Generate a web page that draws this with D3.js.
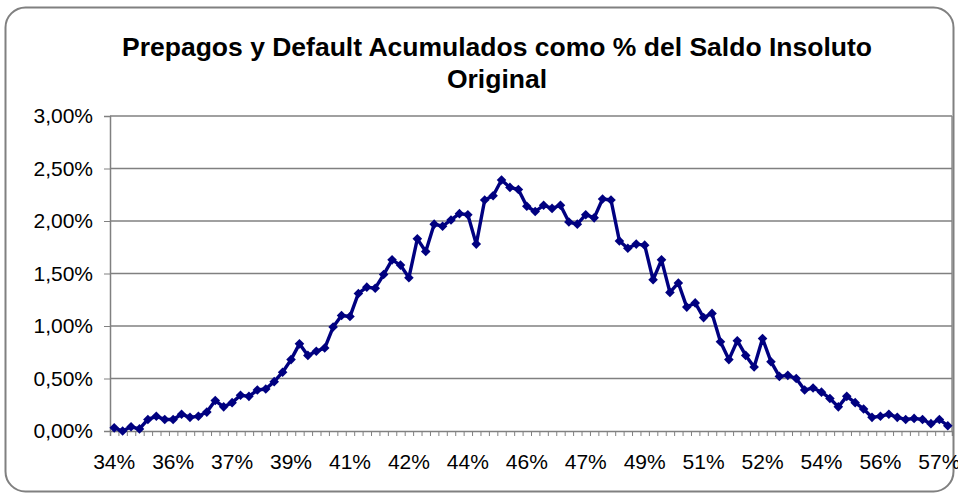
<!DOCTYPE html>
<html>
<head>
<meta charset="utf-8">
<script src="https://cdn.jsdelivr.net/npm/d3@7"></script>
<style>
  body { margin: 0; background: #fff; }
  svg { display: block; font-family: "Liberation Sans", Arial, sans-serif; }
  .axis path, .axis line { stroke: #808080; }
  .axis text { fill: #000; font-size: 21px; }
</style>
</head>
<body>
<div id="chart"></div>
<script>
(function(){

// Data
let values = [
  0.03, 0.00, 0.04, 0.02, 0.11, 0.14, 0.11, 0.11, 0.16, 0.13,
  0.14, 0.18, 0.29, 0.23, 0.27, 0.34, 0.33, 0.39, 0.40, 0.47,
  0.56, 0.68, 0.83, 0.72, 0.76, 0.79, 0.99, 1.10, 1.09, 1.31,
  1.37, 1.36, 1.49, 1.63, 1.58, 1.46, 1.83, 1.71, 1.97, 1.95,
  2.01, 2.07, 2.06, 1.78, 2.20, 2.24, 2.39, 2.32, 2.30, 2.14,
  2.09, 2.15, 2.12, 2.15, 1.99, 1.97, 2.06, 2.03, 2.21, 2.20,
  1.81, 1.74, 1.78, 1.77, 1.44, 1.63, 1.32, 1.41, 1.18, 1.22,
  1.08, 1.12, 0.85, 0.68, 0.86, 0.72, 0.61, 0.88, 0.66, 0.52,
  0.53, 0.50, 0.39, 0.41, 0.37, 0.31, 0.23, 0.33, 0.27, 0.21,
  0.13, 0.14, 0.16, 0.13, 0.11, 0.12, 0.11, 0.07, 0.11, 0.05
]
let xLabels = ['34%', '36%', '37%', '39%', '41%', '42%', '44%', '46%', '47%', '49%', '51%', '52%', '54%', '56%', '57%']
let labelStep = 7
let yTicks = [0, 0.5, 1, 1.5, 2, 2.5, 3]
let titleLines = ['Prepagos y Default Acumulados como % del Saldo Insoluto', 'Original']

let width = 958
let height = 497
let plot = { left: 110, right: 952, top: 116, bottom: 431 }

let svg = d3.select('#chart')
  .append('svg')
  .attr('width', width)
  .attr('height', height)

// chart area border
svg.append('rect')
  .attr('x', 5.5)
  .attr('y', 7.5)
  .attr('width', 948)
  .attr('height', 484)
  .attr('rx', 20)
  .attr('fill', '#fff')
  .attr('stroke', '#808080')
  .attr('stroke-width', 2)

// title
svg.append('g')
  .selectAll('text')
  .data(titleLines)
  .enter().append('text')
  .attr('x', 497)
  .attr('y', (d, i) => 56 + i * 32)
  .attr('text-anchor', 'middle')
  .attr('font-size', '26.5px')
  .attr('font-weight', 'bold')
  .text(d => d)

// Scales
let categories = d3.range(values.length)
let xScale = d3.scaleBand().domain(categories).range([plot.left, plot.right])
let xTickScale = d3.scaleLinear().domain([0, values.length]).range([plot.left, plot.right])
let yScale = d3.scaleLinear().domain([0, 3]).range([plot.bottom, plot.top])
let cx = i => xScale(i) + xScale.bandwidth() / 2

// gridlines
svg.append('g')
  .selectAll('line')
  .data(yTicks.filter(d => d > 0))
  .enter().append('line')
  .attr('x1', plot.left)
  .attr('x2', plot.right)
  .attr('y1', d => yScale(d))
  .attr('y2', d => yScale(d))
  .attr('stroke', '#808080')
  .attr('stroke-width', 1.3)

// right border of plot area
svg.append('line')
  .attr('x1', plot.right).attr('x2', plot.right)
  .attr('y1', plot.top).attr('y2', plot.bottom)
  .attr('stroke', '#808080')
  .attr('stroke-width', 1.3)

// Axes
let yAxis = d3.axisLeft(yScale)
  .tickValues(yTicks)
  .tickSize(6)
  .tickPadding(11)
  .tickFormat(d => d.toFixed(2).replace('.', ',') + '%')
svg.append('g')
  .attr('class', 'axis y-axis')
  .attr('transform', 'translate(' + plot.left + ',0)')
  .call(yAxis)
  .call(g => g.select('.domain').attr('stroke-width', 1.5))

let xTicks = d3.axisBottom(xTickScale)
  .tickValues(d3.range(values.length + 1))
  .tickSize(5)
  .tickFormat('')
svg.append('g')
  .attr('class', 'axis x-axis')
  .attr('transform', 'translate(0,' + plot.bottom + ')')
  .call(xTicks)
  .call(g => g.select('.domain').attr('stroke-width', 1.5))

let xAxis = d3.axisBottom(xScale)
  .tickValues(categories.filter(i => i % labelStep === 0))
  .tickSize(0)
  .tickPadding(23)
  .tickFormat(i => xLabels[i / labelStep])
svg.append('g')
  .attr('class', 'axis x-labels')
  .attr('transform', 'translate(0,' + plot.bottom + ')')
  .call(xAxis)
  .call(g => g.select('.domain').remove())

// Line + markers
let line = d3.line()
  .x((d, i) => cx(i))
  .y(d => yScale(d))

svg.append('path')
  .datum(values)
  .attr('d', line)
  .attr('fill', 'none')
  .attr('stroke', '#000080')
  .attr('stroke-width', 3.4)
  .attr('stroke-linejoin', 'round')

let r = 4.8
svg.append('g')
  .selectAll('path')
  .data(values)
  .enter().append('path')
  .attr('transform', (d, i) => 'translate(' + cx(i) + ',' + yScale(d) + ')')
  .attr('d', `M0,${-r}L${r},0L0,${r}L${-r},0Z`)
  .attr('fill', '#000080')

})()
</script>
</body>
</html>
